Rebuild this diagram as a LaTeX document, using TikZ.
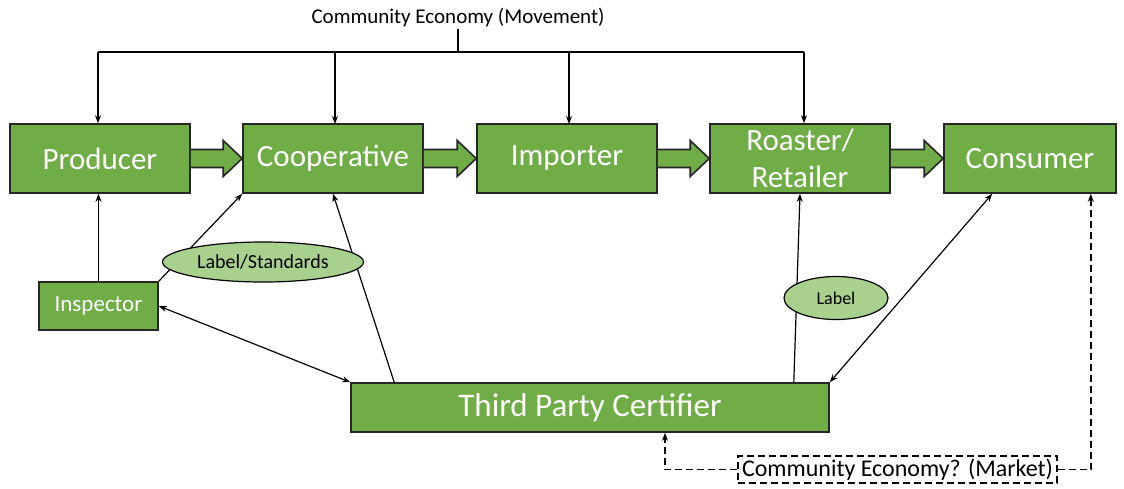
\documentclass[tikz,border=0pt]{standalone}
\usepackage{fontspec}
\setmainfont{Carlito}
\usetikzlibrary{arrows.meta,calc,shapes.geometric}
\definecolor{boxgreen}{HTML}{70AD47}
\definecolor{lightgreen}{HTML}{A9D18E}
\tikzset{
  stagebox/.style={draw=black!85, line width=1.6pt, fill=boxgreen, text=white,
    minimum height=69pt, inner sep=0pt, align=center,
    font=\fontsize{31}{37}\selectfont},
  smallbox/.style={draw=black!85, line width=1.6pt, fill=boxgreen, text=white,
    minimum width=119pt, minimum height=48pt, inner sep=0pt,
    font=\fontsize{23}{25}\selectfont},
  tag/.style={ellipse, draw=black, line width=1.2pt, fill=lightgreen, inner sep=0pt},
  link/.style={line width=1.2pt, -{Stealth[length=8pt,width=6pt]}},
  bilink/.style={line width=1.2pt, {Stealth[length=8pt,width=6pt]}-{Stealth[length=8pt,width=6pt]}},
  flow/.style={draw=black!85, line width=1.6pt, fill=boxgreen, line join=miter},
  market/.style={line width=1.4pt, dash pattern=on 7pt off 4pt},
}
\newcommand{\blockarrow}[2]{%
  \draw[flow] ($(#1.east)+(0,-9)$) -- ($(#2.west)+(-19,-9)$) -- ($(#2.west)+(-19,-18)$)
    -- (#2.west) -- ($(#2.west)+(-19,18)$) -- ($(#2.west)+(-19,9)$) -- ($(#1.east)+(0,9)$);}
\begin{document}
\begin{tikzpicture}[x=1pt,y=-1pt]
\useasboundingbox[fill=white] (0,0) rectangle (1124,488);

% supply chain stages
\node[stagebox, minimum width=180pt] (prod) at (100,158.5) {Producer};
\node[stagebox, minimum width=180pt] (coop) at (333,158.5) {Cooperative};
\node[stagebox, minimum width=180pt] (imp)  at (567,158.5) {Importer};
\node[stagebox, minimum width=180pt] (roast) at (800,158.5) {Roaster/\\Retailer};
\node[stagebox, minimum width=172pt] (cons) at (1030,158.5) {Consumer};

\blockarrow{prod}{coop}
\blockarrow{coop}{imp}
\blockarrow{imp}{roast}
\blockarrow{roast}{cons}

% community economy movement
\node[font=\fontsize{21}{22}\selectfont, inner sep=1pt] (title) at (458,18) {Community Economy (Movement)};
\coordinate (hub) at (458,52);
\coordinate (hubL) at (98,52);
\coordinate (hubR) at (804,52);
\draw[line width=1.2pt] (title.south) -- (hub);
\draw[line width=1.2pt] (hubL) -- (hubR);
\draw[link] (hubL) -- (hubL |- prod.north);
\draw[link] (335,52) -- (335,124);
\draw[link] (569,52) -- (569,124);
\draw[link] (hubR) -- (hubR |- roast.north);

% certification side
\node[smallbox] (insp) at (98.5,306) {Inspector};
\node[stagebox, minimum width=478pt, minimum height=49pt, font=\fontsize{33}{35}\selectfont] (tpc) at (590,407.5) {Third Party Certifier};

\draw[link] (insp.north) -- (insp.north |- prod.south);
\draw[link] (insp.north east) -- (coop.south west);
\draw[bilink] (insp.east) -- (tpc.north west);
\draw[link] ($(tpc.north west)+(44,0)$) -- (coop.south);
\draw[link] ($(tpc.north east)+(-36,0)$) -- (roast.south);
\draw[bilink] ($(cons.south west)+(49,0)$) -- (tpc.north east);

\node[tag, minimum width=201pt, minimum height=40pt, font=\fontsize{20}{22}\selectfont] (std) at (263,262) {Label/Standards};
\node[tag, minimum width=104pt, minimum height=43pt, font=\fontsize{18}{20}\selectfont] (lbl) at (836,298) {Label};

% community economy market
\node[draw=black, market, minimum width=319pt, minimum height=27pt, inner sep=0pt,
  font=\fontsize{24}{24}\selectfont] (mkt) at (897.5,469.5) {Community Economy? (Market)};
\draw[market, -{Stealth[length=8pt,width=6pt]}] (mkt.east) -| ($(cons.south east)+(-26,0)$);
\draw[market, -{Stealth[length=8pt,width=6pt]}] (mkt.west) -| ($(tpc.south)+(75,0)$);
\end{tikzpicture}
\end{document}
